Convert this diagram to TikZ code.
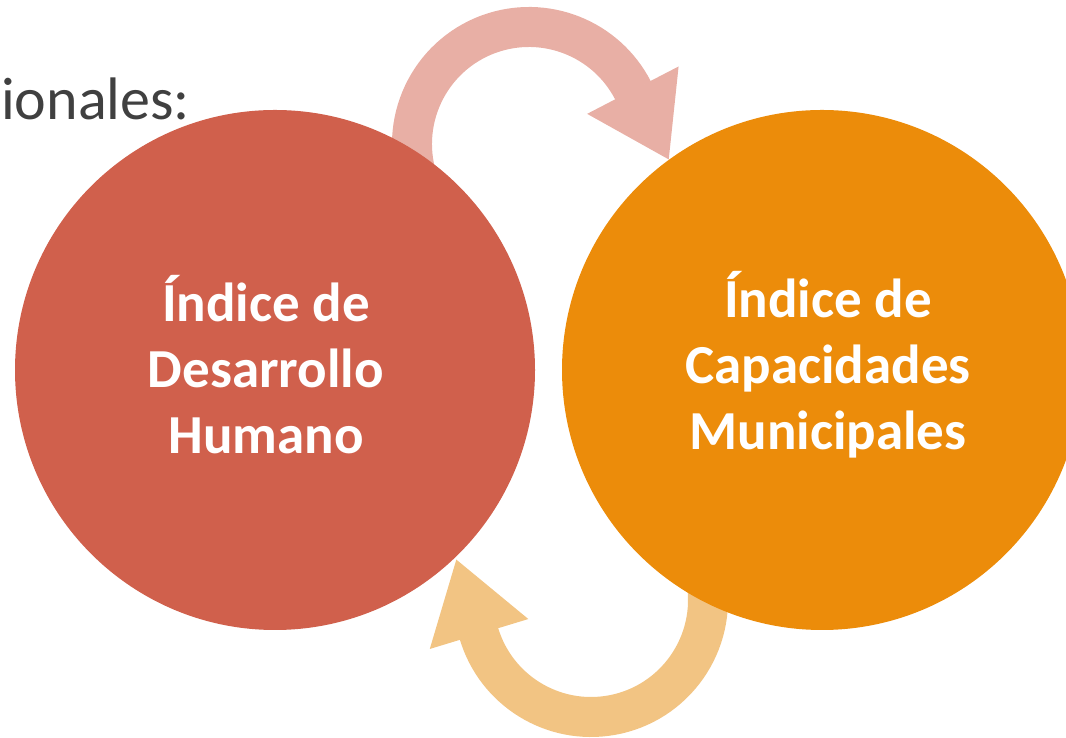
\documentclass[tikz,border=0pt]{standalone}
\usepackage{fontspec}
\setmainfont{Carlito}
\usetikzlibrary{positioning}
\definecolor{rojoidh}{HTML}{D0604C}
\definecolor{naranjaicm}{HTML}{EC8C0A}
\definecolor{rosaflecha}{HTML}{E8AFA5}
\definecolor{amarilloflecha}{HTML}{F2C483}
\definecolor{grisletra}{HTML}{404040}

\begin{document}
\begin{tikzpicture}[x=1pt,y=1pt,
	indice/.style={circle,minimum size=520pt,inner sep=0pt},
	rotulo/.style={text=white,align=center,font=\bfseries\fontsize{55}{66}\selectfont},
	banda/.style={line width=40pt}]
	\useasboundingbox (0,0) rectangle (1066,738);
	\clip (0,0) rectangle (1066,738);
	%% titulo cortado
	\node[anchor=base west,inner sep=0pt,text=grisletra,font=\fontsize{60}{72}\selectfont] (titulo) at (1,618) {ionales:};
	%% flechas
	\coordinate (ca) at (529,594);
	\coordinate (cb) at (591,138);
	\draw[banda,rosaflecha] ([shift={(200:117)}]ca) arc[start angle=200,end angle=27,radius=117];
	\fill[rosaflecha] ([shift={(27.4:65.5)}]ca) -- ([shift={(27.4:168.5)}]ca) -- ([shift={(-6.3:140.6)}]ca) -- cycle;
	\draw[banda,amarilloflecha] ([shift={(10:117)}]cb) arc[start angle=10,end angle=-163.5,radius=117];
	\fill[amarilloflecha] ([shift={(-163.1:65.5)}]cb) -- ([shift={(-163.1:168.5)}]cb) -- ([shift={(163.3:140.6)}]cb) -- cycle;
	%% circulos
	\node[indice,fill=rojoidh] (idh) at (275,368) {};
	\node[indice,fill=naranjaicm] (icm) at (822,368) {};
	% textos
	\node[rotulo] (tidh) at ([xshift=-9pt,yshift=5pt]idh.center) {Índice de\\Desarrollo\\Humano};
	\node[rotulo] (ticm) at ([xshift=6pt,yshift=5pt]icm.center) {Índice de\\Capacidades\\Municipales};
\end{tikzpicture}
\end{document}
